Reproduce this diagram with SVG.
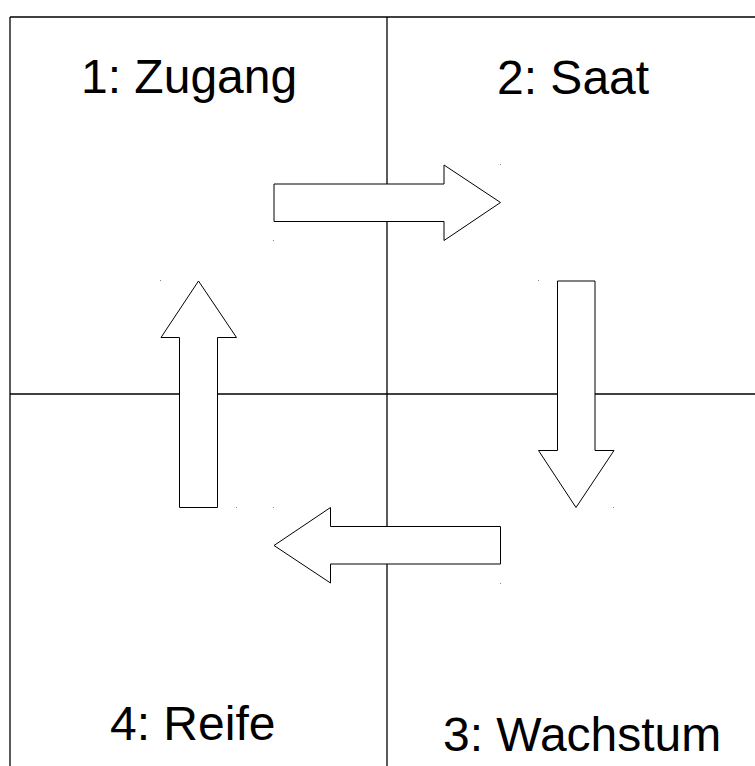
<svg xmlns="http://www.w3.org/2000/svg" width="755" height="766" viewBox="0 0 755 766">
<style>
.grid{stroke:#000;stroke-width:1.3;fill:none}
.arrow{fill:#fff;stroke:#000;stroke-width:1}
.dot{fill:#888}
.lbl{font-family:"Liberation Sans",Arial,sans-serif;font-size:48px;fill:#000}
</style>
<rect width="755" height="766" fill="#fff"/>
<g id="grid">
<line class="grid" x1="10" y1="17" x2="755" y2="17"/>
<line class="grid" x1="10" y1="17" x2="10" y2="766"/>
<line class="grid" x1="387" y1="17" x2="387" y2="766"/>
<line class="grid" x1="10" y1="394" x2="755" y2="394"/>
</g>
<g id="node-zugang"><text class="lbl" x="81" y="93">1: Zugang</text></g>
<g id="node-saat"><text class="lbl" x="497" y="94">2: Saat</text></g>
<g id="node-wachstum"><text class="lbl" x="443" y="751">3: Wachstum</text></g>
<g id="node-reife"><text class="lbl" x="110" y="740">4: Reife</text></g>
<g id="connectors">
<polygon class="arrow" points="274,184 444,184 444,165 500.5,202.5 444,240.5 444,221.5 274,221.5"/>
<polygon class="arrow" points="557.5,281 595,281 595,450.5 614,450.5 576,507.5 538.5,450.5 557.5,450.5"/>
<polygon class="arrow" points="500.5,526.5 500.5,564 330.5,564 330.5,583 274,545.5 330.5,507.5 330.5,526.5"/>
<polygon class="arrow" points="217.5,507.5 179.5,507.5 179.5,337.5 161,337.5 198.5,281 236.5,337.5 217.5,337.5"/>
<rect class="dot" x="500" y="164" width="1" height="1"/>
<rect class="dot" x="273" y="240" width="1" height="1"/>
<rect class="dot" x="538" y="280" width="1" height="1"/>
<rect class="dot" x="613" y="507" width="1" height="1"/>
<rect class="dot" x="273" y="507" width="1" height="1"/>
<rect class="dot" x="500" y="583" width="1" height="1"/>
<rect class="dot" x="160" y="280" width="1" height="1"/>
<rect class="dot" x="236" y="507" width="1" height="1"/>
</g>
</svg>
